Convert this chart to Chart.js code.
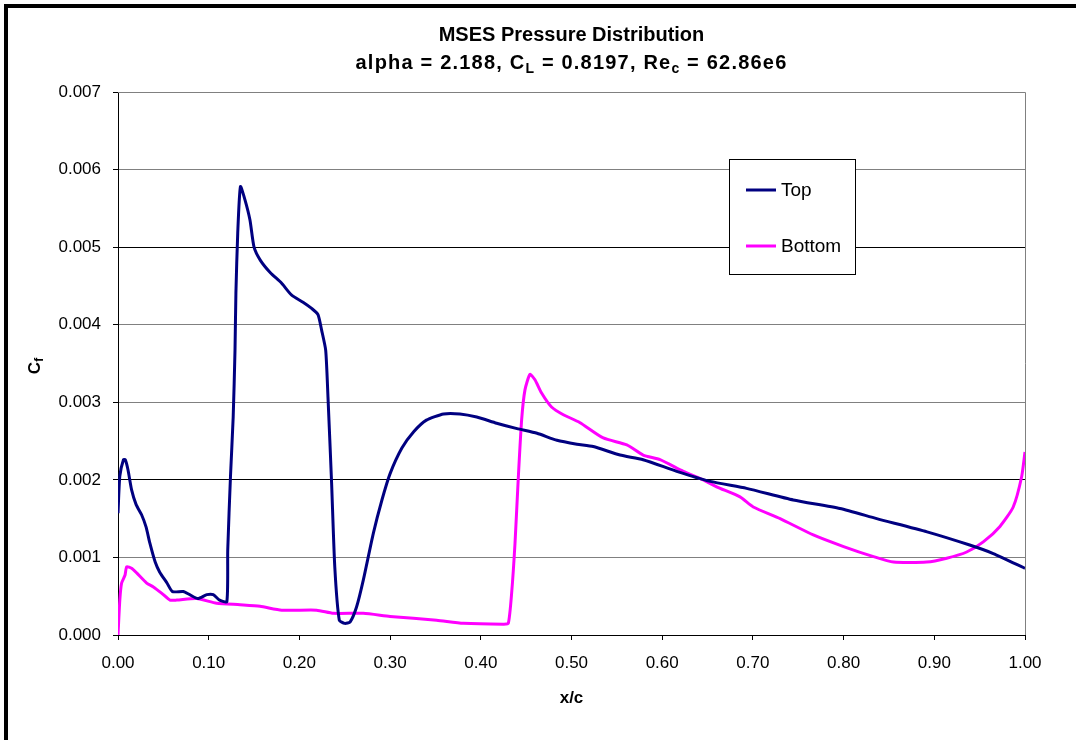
<!DOCTYPE html>
<html>
<head>
<meta charset="utf-8">
<title>MSES Pressure Distribution</title>
<script src="https://cdn.jsdelivr.net/npm/chart.js@4.4.1/dist/chart.umd.min.js"></script>
<style>
	html, body { margin: 0; padding: 0; background: #fff; }
	#wrap { position: relative; width: 1076px; height: 740px; }
	#frame { position: absolute; left: 4px; top: 4px; right: 0; bottom: 0; border-left: 4px solid #000; border-top: 4px solid #000; pointer-events: none; }
</style>
</head>
<body>
<div id="wrap">
	<canvas id="cfChart" width="1076" height="740"></canvas>
	<div id="frame"></div>
</div>
<script>
var topX = [0.000, 0.002, 0.006, 0.008, 0.011, 0.015, 0.020, 0.026, 0.031, 0.035, 0.041, 0.046, 0.054, 0.060, 0.072, 0.079, 0.088, 0.098, 0.105, 0.112, 0.120,
	0.121, 0.124, 0.127, 0.129, 0.130, 0.132, 0.135, 0.140, 0.1455, 0.150, 0.157, 0.168, 0.180, 0.1915, 0.204, 0.2135, 0.2205, 0.2245, 0.229, 0.2315, 0.2355, 0.239, 0.244,
	0.250, 0.256, 0.263, 0.2705, 0.2815, 0.291, 0.300, 0.313, 0.326, 0.340, 0.359, 0.377, 0.3955, 0.4175, 0.440, 0.462, 0.484, 0.506,
	0.524, 0.5535, 0.579, 0.616, 0.653, 0.693, 0.7445, 0.796, 0.8365, 0.892, 0.939, 0.965, 1.000];
var topY = [0.00157, 0.00205, 0.00226, 0.00226, 0.00213, 0.00187, 0.00168, 0.00155, 0.00139, 0.00119, 0.00094, 0.00081, 0.00067, 0.00056, 0.00056, 0.00052, 0.00047, 0.00052, 0.00052, 0.00045, 0.00043,
	0.00110, 0.00204, 0.00281, 0.00367, 0.00441, 0.00518, 0.00578, 0.00561, 0.00535, 0.00500, 0.00483, 0.00467, 0.00454, 0.00438, 0.00429, 0.00421, 0.00413, 0.00393, 0.00367, 0.00307, 0.00196, 0.00088, 0.00019,
	0.00015, 0.00017, 0.00036, 0.00071, 0.00131, 0.00174, 0.00208, 0.00241, 0.00262, 0.00277, 0.00285, 0.00285, 0.00281, 0.00273, 0.00266, 0.00260, 0.00251, 0.00246,
	0.00243, 0.00232, 0.00226, 0.00211, 0.00198, 0.00189, 0.00174, 0.00163, 0.00150, 0.00133, 0.00116, 0.00105, 0.00086];

var botX = [0.000, 0.002, 0.004, 0.0077, 0.0096, 0.015, 0.0206, 0.0316, 0.039, 0.048, 0.0573, 0.0647, 0.0867, 0.1088, 0.1345, 0.1566, 0.1805, 0.219, 0.2374, 0.2705,
	0.300, 0.3513, 0.3807, 0.4248, 0.4303, 0.434, 0.4377, 0.4414, 0.445, 0.4487, 0.4542, 0.4597, 0.467, 0.478, 0.491, 0.509,
	0.535, 0.561, 0.579, 0.5976, 0.6233, 0.6453, 0.660, 0.6858, 0.7004, 0.730, 0.7666, 0.800, 0.833, 0.855, 0.8916, 0.9137, 0.9357, 0.954, 0.9724, 0.987, 0.9963, 1.000];
var botY = [0.00000, 0.00045, 0.00067, 0.00077, 0.00088, 0.00086, 0.00080, 0.00067, 0.00062, 0.00054, 0.00045, 0.00045, 0.00047, 0.00041, 0.00039, 0.00037, 0.00032, 0.00032, 0.00028, 0.00028,
	0.00024, 0.00019, 0.00015, 0.00014, 0.00015, 0.00054, 0.00118, 0.00204, 0.00277, 0.00316, 0.00336, 0.00329, 0.00312, 0.00294, 0.00284, 0.00274,
	0.00254, 0.00245, 0.00232, 0.00226, 0.00211, 0.00200, 0.00191, 0.00178, 0.00165, 0.00150, 0.00129, 0.00114, 0.00101, 0.00094, 0.00094, 0.00099, 0.00107, 0.00120, 0.00140, 0.00165, 0.00204, 0.00236];

var seriesNames = ["Top", "Bottom"];
var seriesColors = ["#000080", "#ff00ff"];
var xTicks = [0, 0.1, 0.2, 0.3, 0.4, 0.5, 0.6, 0.7, 0.8, 0.9, 1.0];
var yTicks = [0, 0.001, 0.002, 0.003, 0.004, 0.005, 0.006, 0.007];

var FONT = "'Liberation Sans', Arial, sans-serif";

var toPoints = function(xs, ys){
	var pts = [];
	for(var i=0; i<xs.length; i++){
		pts.push({x: xs[i], y: ys[i]});
	}
	return pts;
}

// draws runs of text with optional subscripts, centered at cx
var drawRuns = function(ctx, runs, cx, cy, size, spacing){
	var total = 0, i;
	ctx.letterSpacing = (spacing || 0) + "px";
	for(i=0; i<runs.length; i++){
		ctx.font = "bold " + (runs[i].sub ? Math.round(size*0.7) : size) + "px " + FONT;
		runs[i].w = ctx.measureText(runs[i].t).width;
		total += runs[i].w;
	}
	var x = cx - total/2;
	ctx.textAlign = "left";
	ctx.textBaseline = "middle";
	for(i=0; i<runs.length; i++){
		ctx.font = "bold " + (runs[i].sub ? Math.round(size*0.7) : size) + "px " + FONT;
		ctx.fillText(runs[i].t, x, cy + (runs[i].sub ? size*0.3 : 0));
		x += runs[i].w;
	}
	ctx.letterSpacing = "0px";
}

var decorPlugin = {
	id: "decor",
	beforeDatasetsDraw: function(chart){
		var ctx = chart.ctx, a = chart.chartArea;
		ctx.save();
		ctx.strokeStyle = "#808080";
		ctx.lineWidth = 1;
		ctx.beginPath();
		ctx.moveTo(a.left, a.top + 0.5);
		ctx.lineTo(a.right + 0.5, a.top + 0.5);
		ctx.lineTo(a.right + 0.5, a.bottom);
		ctx.stroke();
		ctx.restore();
	},
	afterDraw: function(chart){
		var ctx = chart.ctx, a = chart.chartArea;
		var cx = (a.left + a.right)/2;
		ctx.save();
		ctx.fillStyle = "#000";
		drawRuns(ctx, [{t: "MSES Pressure Distribution"}], cx, 35, 20);
		drawRuns(ctx, [{t: "alpha = 2.188, C"}, {t: "L", sub: true}, {t: " = 0.8197, Re"}, {t: "c", sub: true}, {t: " = 62.86e6"}], cx, 63, 20, 1.2);
		drawRuns(ctx, [{t: "x/c"}], cx, 698, 17);

		// y axis title, rotated
		ctx.translate(35, 366);
		ctx.rotate(-Math.PI/2);
		drawRuns(ctx, [{t: "C"}, {t: "f", sub: true}], 0, 0, 17);
		ctx.setTransform(1, 0, 0, 1, 0, 0);

		// legend box
		var lx = 729, ly = 159, lw = 126, lh = 115;
		ctx.fillStyle = "#fff";
		ctx.fillRect(lx, ly, lw, lh);
		ctx.strokeStyle = "#000";
		ctx.lineWidth = 1;
		ctx.strokeRect(lx + 0.5, ly + 0.5, lw, lh);
		var rows = [190, 246];
		ctx.font = "19px " + FONT;
		ctx.textAlign = "left";
		ctx.textBaseline = "middle";
		for(var i=0; i<seriesNames.length; i++){
			ctx.strokeStyle = seriesColors[i];
			ctx.lineWidth = 3;
			ctx.beginPath();
			ctx.moveTo(746, rows[i]);
			ctx.lineTo(776, rows[i]);
			ctx.stroke();
			ctx.fillStyle = "#000";
			ctx.fillText(seriesNames[i], 781, rows[i] + 1);
		}
		ctx.restore();
	}
};

var ctx = document.getElementById("cfChart").getContext("2d");
var cfChart = new Chart(ctx, {
	type: "scatter",
	data: {
		datasets: [
			{
				label: seriesNames[0],
				data: toPoints(topX, topY),
				showLine: true,
				borderColor: seriesColors[0],
				backgroundColor: seriesColors[0],
				borderWidth: 3,
				pointRadius: 0,
				tension: 0.2
			},
			{
				label: seriesNames[1],
				data: toPoints(botX, botY),
				showLine: true,
				borderColor: seriesColors[1],
				backgroundColor: seriesColors[1],
				borderWidth: 3,
				pointRadius: 0,
				tension: 0.2
			}
		]
	},
	options: {
		responsive: false,
		animation: false,
		layout: { padding: { left: 0, top: 92, right: 51, bottom: 0 } },
		plugins: {
			legend: { display: false },
			title: { display: false },
			tooltip: { enabled: false }
		},
		scales: {
			x: {
				type: "linear",
				min: 0,
				max: 1,
				afterFit: function(scale){ scale.height = 105; },
				afterBuildTicks: function(scale){
					scale.ticks = xTicks.map(function(v){ return {value: v}; });
				},
				ticks: {
					color: "#000",
					padding: 13,
					maxRotation: 0,
					font: { family: FONT, size: 17 },
					callback: function(v){ return v.toFixed(2); }
				},
				grid: {
					drawOnChartArea: false,
					drawTicks: true,
					tickLength: 5,
					tickColor: "#000"
				},
				border: { color: "#000", width: 1 }
			},
			y: {
				type: "linear",
				min: 0,
				max: 0.007,
				afterFit: function(scale){ scale.width = 118; },
				afterBuildTicks: function(scale){
					scale.ticks = yTicks.map(function(v){ return {value: v}; });
				},
				ticks: {
					color: "#000",
					padding: 12,
					font: { family: FONT, size: 17 },
					callback: function(v){ return v.toFixed(3); }
				},
				grid: {
					color: function(c){
						var v = c.tick ? Math.round(c.tick.value*1000) : -1;
						return (v == 2 || v == 5) ? "#000" : "#808080";
					},
					lineWidth: 1,
					tickLength: 5,
					tickColor: "#000"
				},
				border: { color: "#000", width: 1 }
			}
		}
	},
	plugins: [decorPlugin]
});
</script>
</body>
</html>
